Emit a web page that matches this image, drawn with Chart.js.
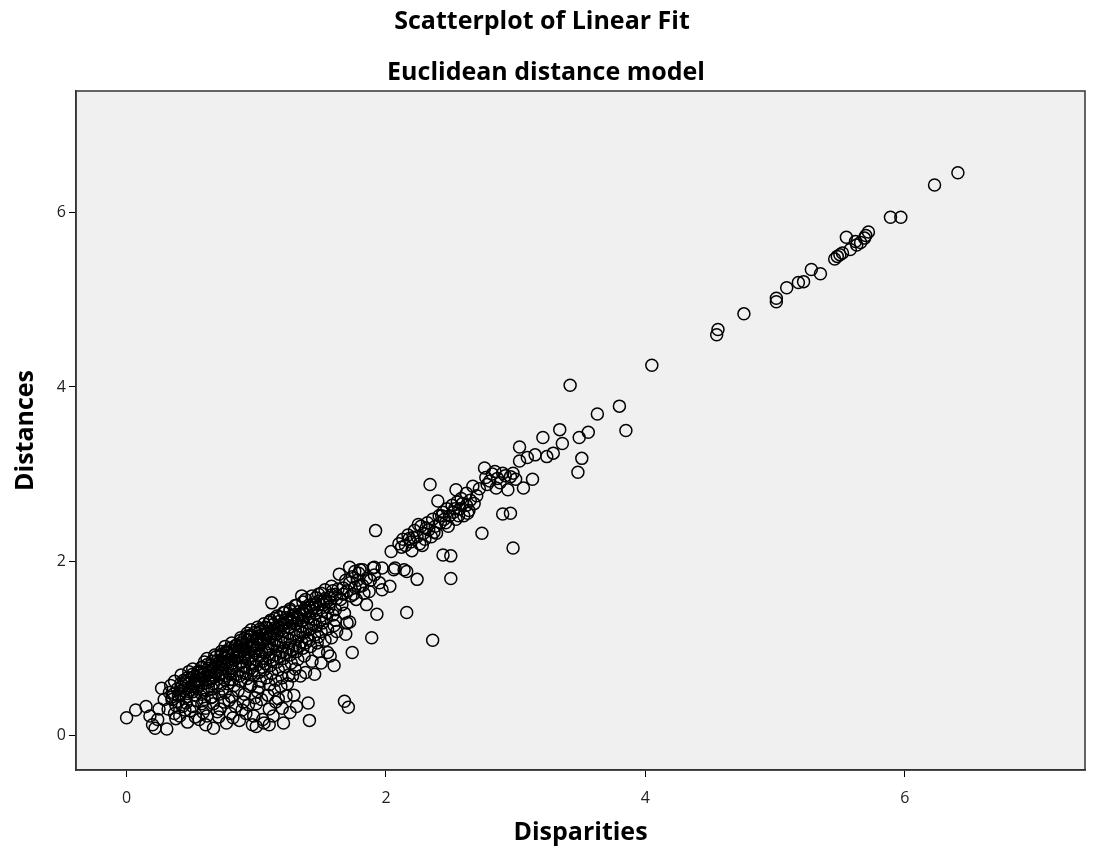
<!DOCTYPE html>
<html>
<head>
<meta charset="utf-8">
<script src="https://cdn.jsdelivr.net/npm/chart.js@4/dist/chart.umd.min.js"></script>
<style>
  html, body { margin: 0; padding: 0; background: #fff; }
</style>
</head>
<body>
<canvas id="fit" width="1093" height="856"></canvas>
<script>
// Scatterplot of Linear Fit - Euclidean distance model
const titleLines = ['Scatterplot of Linear Fit', 'Euclidean distance model'];
const xLabel = 'Disparities';
const yLabel = 'Distances';
const xTicks = [0, 2, 4, 6];
const yTicks = [0, 2, 4, 6];

// [disparity, distance] pairs
const lowTail = [
  [0.00,0.20],[0.07,0.29],[0.15,0.33],[0.18,0.22],[0.22,0.08],[0.31,0.07],[0.20,0.12],
  [0.25,0.30],[0.27,0.54],[0.29,0.41],[0.32,0.30],[0.24,0.18]
];

const denseBand = [
  [0.33,0.49],[0.35,0.41],[0.34,0.57],[0.38,0.34],[0.36,0.47],[0.37,0.25],[0.39,0.53],[0.38,0.19],[0.35,0.44],[0.37,0.62],
  [0.42,0.55],[0.40,0.39],[0.44,0.63],[0.41,0.48],[0.45,0.29],[0.43,0.58],[0.40,0.45],[0.42,0.69],[0.44,0.51],[0.41,0.22],[0.43,0.33],
  [0.48,0.59],[0.46,0.44],[0.50,0.66],[0.47,0.15],[0.49,0.52],[0.46,0.37],[0.48,0.73],[0.50,0.56],[0.47,0.48],[0.49,0.28],[0.46,0.62],
  [0.53,0.64],[0.51,0.50],[0.55,0.71],[0.52,0.57],[0.54,0.40],[0.51,0.76],[0.53,0.21],[0.55,0.55],[0.52,0.67],[0.54,0.61],[0.51,0.33],[0.53,0.46],
  [0.57,0.69],[0.59,0.52],[0.56,0.63],[0.60,0.41],[0.58,0.78],[0.56,0.57],[0.59,0.26],[0.57,0.73],[0.60,0.67],[0.58,0.47],[0.56,0.18],[0.60,0.84],[0.58,0.36],
  [0.63,0.72],[0.61,0.60],[0.65,0.80],[0.62,0.51],[0.64,0.66],[0.61,0.12],[0.63,0.77],[0.65,0.43],[0.62,0.88],[0.64,0.62],[0.61,0.31],[0.65,0.69],[0.63,0.55],[0.62,0.22],
  [0.68,0.76],[0.66,0.65],[0.70,0.86],[0.67,0.08],[0.69,0.71],[0.66,0.53],[0.68,0.92],[0.70,0.74],[0.67,0.59],[0.69,0.81],[0.66,0.44],[0.70,0.27],[0.68,0.67],[0.67,0.36],
  [0.73,0.81],[0.71,0.69],[0.75,0.89],[0.72,0.57],[0.74,0.76],[0.71,0.21],[0.73,0.96],[0.75,0.64],[0.72,0.85],[0.74,0.72],[0.71,0.47],[0.75,0.38],[0.73,0.91],[0.72,0.30],[0.74,0.53],
  [0.76,0.88],[0.79,0.71],[0.77,0.97],[0.80,0.64],[0.78,0.80],[0.77,0.14],[0.76,1.02],[0.80,0.77],[0.79,0.92],[0.78,0.59],[0.76,0.49],[0.79,0.40],[0.80,0.25],[0.77,0.83],[0.78,0.95],[0.76,0.68],
  [0.82,0.93],[0.84,0.79],[0.81,1.06],[0.85,0.70],[0.83,0.86],[0.82,0.20],[0.84,0.98],[0.81,0.74],[0.85,0.89],[0.83,0.57],[0.81,0.44],[0.84,0.33],[0.85,1.03],[0.82,0.64],[0.83,0.96],[0.81,0.82],
  [0.87,1.01],[0.89,0.84],[0.86,0.92],[0.90,0.72],[0.88,1.09],[0.87,0.17],[0.86,0.97],[0.90,0.79],[0.89,1.04],[0.88,0.62],[0.86,0.51],[0.89,0.29],[0.90,0.89],[0.87,0.68],[0.88,1.12],[0.86,0.95],[0.90,0.38],
  [0.92,1.05],[0.94,0.87],[0.91,0.99],[0.95,0.76],[0.93,1.14],[0.92,0.25],[0.91,0.93],[0.95,0.83],[0.94,1.10],[0.93,0.65],[0.91,0.47],[0.94,0.35],[0.95,1.02],[0.92,0.71],[0.93,1.17],[0.91,0.90],[0.95,0.56],
  [0.97,1.08],[0.99,0.94],[0.96,1.15],[1.00,0.80],[0.98,1.01],[0.97,0.12],[0.96,1.21],[1.00,0.87],[0.99,0.97],[0.98,0.69],[0.96,0.58],[0.99,0.43],[1.00,1.11],[0.97,0.74],[0.98,1.04],[0.96,0.91],[1.00,0.36],[0.98,0.22],
  [1.02,1.13],[1.04,0.96],[1.01,1.04],[1.05,0.85],[1.03,1.19],[1.00,0.10],[1.01,0.99],[1.05,0.78],[1.04,1.08],[1.03,0.62],[1.01,0.50],[1.04,0.41],[1.05,1.16],[1.02,0.72],[1.03,0.91],[1.01,1.24],[1.05,0.18],[1.02,0.55],
  [1.07,1.16],[1.09,1.01],[1.06,1.09],[1.10,0.89],[1.08,1.23],[1.06,0.14],[1.07,0.95],[1.10,1.05],[1.09,1.19],[1.08,0.66],[1.06,0.75],[1.09,0.46],[1.10,0.30],[1.07,0.82],[1.08,1.12],[1.06,1.28],[1.10,0.58],[1.09,0.98],
  [1.12,1.20],[1.14,1.04],[1.11,1.13],[1.15,0.92],[1.13,1.27],[1.13,0.22],[1.11,0.99],[1.15,1.09],[1.14,1.23],[1.12,0.71],[1.11,0.80],[1.14,0.52],[1.12,1.52],[1.15,0.38],[1.13,0.86],[1.11,1.32],[1.15,0.63],[1.10,0.12],[1.14,1.17],
  [1.17,1.24],[1.19,1.08],[1.16,1.16],[1.20,0.96],[1.18,1.31],[1.16,1.02],[1.20,1.13],[1.19,1.27],[1.17,0.75],[1.16,0.84],[1.19,0.56],[1.17,0.42],[1.20,0.31],[1.18,0.90],[1.16,1.37],[1.20,0.66],[1.18,1.20],
  [1.22,1.28],[1.24,1.11],[1.21,1.20],[1.25,1.00],[1.23,1.35],[1.21,0.14],[1.21,1.06],[1.25,1.17],[1.24,1.30],[1.22,0.79],[1.21,0.88],[1.24,0.59],[1.23,0.45],[1.25,0.69],[1.23,0.94],[1.21,1.41],[1.25,1.24],
  [1.27,1.31],[1.29,1.15],[1.26,1.24],[1.30,1.03],[1.28,1.38],[1.26,0.26],[1.26,1.09],[1.30,1.21],[1.29,1.34],[1.27,0.83],[1.26,0.92],[1.29,0.46],[1.28,0.68],[1.30,0.76],[1.28,0.98],[1.26,1.45],[1.30,1.28],
  [1.32,1.35],[1.34,1.19],[1.31,1.28],[1.35,1.07],[1.33,1.42],[1.31,0.33],[1.31,1.13],[1.35,1.25],[1.34,1.38],[1.32,0.87],[1.31,0.96],[1.34,0.68],[1.35,1.60],[1.33,1.02],[1.31,1.49],[1.35,1.31],
  [1.37,1.39],[1.39,1.23],[1.36,1.32],[1.40,1.11],[1.38,1.46],[1.40,0.37],[1.36,1.17],[1.40,1.29],[1.39,1.42],[1.37,0.91],[1.36,1.00],[1.38,0.72],[1.41,0.17],[1.38,1.06],[1.36,1.53],[1.40,1.35],
  [1.42,1.43],[1.44,1.27],[1.41,1.36],[1.45,1.15],[1.43,1.50],[1.41,1.21],[1.45,1.33],[1.44,1.46],[1.42,1.02],[1.45,0.70],[1.43,0.85],[1.46,1.58],[1.41,1.09],
  [1.47,1.46],[1.49,1.31],[1.46,1.40],[1.50,1.19],[1.48,1.54],[1.48,0.96],[1.46,1.25],[1.50,1.37],[1.49,1.50],[1.50,0.83],[1.47,1.06],[1.48,1.13],
  [1.52,1.50],[1.54,1.34],[1.51,1.43],[1.55,1.22],[1.53,1.57],[1.53,1.09],[1.51,1.29],[1.55,1.40],[1.54,1.53],[1.55,0.95],[1.57,0.91],[1.50,1.63],
  [1.57,1.53],[1.59,1.38],[1.56,1.47],[1.60,1.26],[1.58,1.61],[1.58,1.12],[1.60,0.80],[1.61,1.44],[1.62,1.57],[1.61,1.32],[1.63,1.68],[1.62,1.19],[1.59,1.66]
];

// extra marks filling the darkest part of the band
const bandCore = [
  [0.42,0.60],[0.47,0.66],[0.51,0.70],[0.55,0.73],[0.58,0.78],[0.62,0.81],[0.66,0.85],[0.69,0.90],[0.73,0.93],
  [0.77,0.95],[0.80,1.00],[0.84,1.03],[0.88,1.06],[0.91,1.11],[0.95,1.13],[0.99,1.18],[1.03,1.22],[1.07,1.24],
  [1.10,1.30],[1.14,1.34],[1.18,1.36],[1.22,1.41],[1.26,1.43],[1.30,1.49],[1.38,1.56],[1.43,1.60],[1.48,1.62],
  [1.53,1.67],[1.58,1.71],
  [0.45,0.54],[0.53,0.62],[0.60,0.70],[0.64,0.74],[0.71,0.79],[0.75,0.84],[0.79,0.87],[0.86,0.90],[0.90,0.97],
  [0.97,1.02],[1.01,1.10],[1.05,1.11],[1.11,1.17],[1.16,1.22],[1.20,1.26],[1.24,1.33],[1.28,1.34],[1.33,1.39],
  [1.37,1.44],[1.41,1.47],[1.46,1.51],[1.52,1.54],[1.56,1.58],[1.61,1.62]
];

const midBand = [
  [1.65,1.56],[1.66,1.50],[1.67,1.62],[1.68,1.40],[1.69,1.16],[1.70,1.29],[1.72,1.30],[1.71,0.32],[1.74,0.95],
  [1.68,0.39],[1.70,1.66],[1.72,1.75],[1.73,1.60],[1.74,1.82],[1.76,1.70],[1.77,1.56],[1.78,1.78],[1.80,1.71],
  [1.79,1.86],[1.82,1.90],[1.82,1.72],[1.85,1.50],[1.75,1.62],[1.64,1.85],[1.67,1.69],[1.72,1.93],[1.85,1.80],
  [1.87,1.65],[1.89,1.12],[1.88,1.78],[1.90,1.92],[1.91,1.84],[1.93,1.39],[1.92,2.35],[1.97,1.92],[1.91,1.93],
  [1.97,1.67],[1.95,1.75],[1.80,1.90],[1.69,1.78],[1.76,1.88],[1.83,1.63],
  [2.03,1.71],[2.06,1.90],[2.07,1.92],[2.04,2.11],[2.14,1.90],[2.16,1.88],[2.24,1.79],[2.16,1.41],[2.36,1.09],
  [2.50,1.80],[2.10,2.20],[2.13,2.25],[2.15,2.18],[2.17,2.30],[2.19,2.22],[2.20,2.12],[2.22,2.35],[2.24,2.28],
  [2.26,2.20],[2.27,2.40],[2.29,2.32],[2.30,2.25],[2.32,2.44],[2.33,2.36],[2.35,2.28],[2.36,2.48],[2.38,2.40],
  [2.39,2.32],[2.34,2.88],[2.40,2.69],[2.41,2.52],[2.42,2.44],[2.44,2.07],[2.44,2.56],[2.45,2.48],[2.47,2.60],
  [2.48,2.40],[2.50,2.06],[2.49,2.52],[2.51,2.64],[2.52,2.56],[2.54,2.82],[2.54,2.48],[2.55,2.68],[2.57,2.60],
  [2.58,2.72],[2.60,2.52],[2.62,2.78],[2.62,2.64],[2.64,2.58],[2.65,2.70],[2.68,2.66],[2.70,2.75],[2.67,2.86],
  [2.21,2.27],[2.28,2.18],[2.31,2.38],[2.37,2.33],[2.43,2.52],[2.46,2.44],[2.53,2.60],[2.56,2.52],[2.59,2.66],
  [2.63,2.55],[2.12,2.16],[2.18,2.26],[2.25,2.42],
  [2.72,2.83],[2.74,2.32],[2.76,3.07],[2.77,2.96],[2.78,2.88],[2.80,2.92],[2.82,3.00],[2.84,3.03],[2.85,2.84],
  [2.86,2.95],[2.88,2.90],[2.90,3.01],[2.90,2.54],[2.92,2.98],[2.94,2.82],[2.96,2.97],[2.96,2.55],[2.98,3.01],
  [2.98,2.15],[3.00,2.94],[3.03,3.31],[3.03,3.15],[3.06,2.84],[3.09,3.19],[3.13,2.94],[3.15,3.22],[3.21,3.42],
  [3.24,3.20],[3.29,3.24],[3.34,3.51],[3.36,3.35],[3.42,4.02],[3.48,3.02],[3.49,3.42],[3.51,3.18],[3.56,3.48],
  [3.63,3.69],[3.80,3.78],[3.85,3.50],[4.05,4.25]
];

const upperTail = [
  [4.55,4.60],[4.56,4.66],[4.76,4.84],[5.01,4.98],[5.01,5.02],[5.09,5.14],[5.18,5.20],[5.22,5.21],
  [5.28,5.35],[5.35,5.30],[5.46,5.47],[5.48,5.50],[5.50,5.52],[5.52,5.54],[5.55,5.72],[5.58,5.58],
  [5.62,5.67],[5.63,5.63],[5.66,5.66],[5.69,5.71],[5.70,5.74],[5.72,5.78],[5.89,5.95],[5.97,5.95],
  [6.23,6.32],[6.41,6.46]
];

const allPoints = lowTail.concat(denseBand, bandCore, midBand, upperTail).map(p => ({ x: p[0], y: p[1] }));

const boldFamily = '"Open Sans", sans-serif';
const labelFont = { family: boldFamily, size: 25, weight: 'bold' };
const tickFont = { family: '"Open Sans", sans-serif', size: 16 };

const plotFrame = {
  id: 'plotFrame',
  beforeDraw(chart) {
    const { ctx, chartArea: a } = chart;
    ctx.save();
    ctx.fillStyle = '#ffffff';
    ctx.fillRect(0, 0, chart.width, chart.height);
    ctx.fillStyle = '#f0f0f0';
    ctx.fillRect(a.left, a.top, a.right - a.left, a.bottom - a.top);
    ctx.restore();
  },
  afterDraw(chart) {
    const { ctx, chartArea: a } = chart;
    ctx.save();
    ctx.strokeStyle = '#333';
    ctx.lineWidth = 1.5;
    ctx.strokeRect(a.left, a.top, a.right - a.left, a.bottom - a.top);
    ctx.fillStyle = '#000';
    ctx.font = 'bold 25px ' + boldFamily;
    ctx.textAlign = 'center';
    ctx.textBaseline = 'middle';
    ctx.fillText(titleLines[0], 542, 22);
    ctx.fillText(titleLines[1], 546, 73);
    ctx.restore();
  }
};

new Chart(document.getElementById('fit'), {
  type: 'scatter',
  data: {
    datasets: [{
      data: allPoints,
      pointStyle: 'circle',
      pointRadius: 6,
      pointHoverRadius: 6,
      borderWidth: 1.5,
      borderColor: '#000',
      backgroundColor: 'rgba(0,0,0,0)'
    }]
  },
  options: {
    responsive: false,
    animation: false,
    layout: { padding: { top: 91, right: 8, left: 0, bottom: 0 } },
    plugins: { legend: { display: false }, tooltip: { enabled: false } },
    scales: {
      x: {
        type: 'linear',
        min: -0.39,
        max: 7.39,
        afterBuildTicks: s => { s.ticks = xTicks.map(v => ({ value: v })); },
        afterFit: s => { s.height = 86; },
        ticks: { font: tickFont, color: '#222', padding: 12, callback: v => String(v) },
        grid: { drawOnChartArea: false, drawTicks: true, tickLength: 7, color: '#000' },
        border: { display: true, color: '#333', width: 1.5 },
        title: { display: true, text: xLabel, font: labelFont, color: '#000', padding: { top: 0, bottom: 8 } }
      },
      y: {
        type: 'linear',
        min: -0.40,
        max: 7.40,
        afterBuildTicks: s => { s.ticks = yTicks.map(v => ({ value: v })); },
        afterFit: s => { s.width = 76; },
        ticks: { font: tickFont, color: '#222', padding: 3, callback: v => String(v) },
        grid: { drawOnChartArea: false, drawTicks: true, tickLength: 7, color: '#000' },
        border: { display: true, color: '#333', width: 1.5 },
        title: { display: true, text: yLabel, font: labelFont, color: '#000', padding: { top: 11, bottom: 0 } }
      }
    }
  },
  plugins: [plotFrame]
});
</script>
</body>
</html>
